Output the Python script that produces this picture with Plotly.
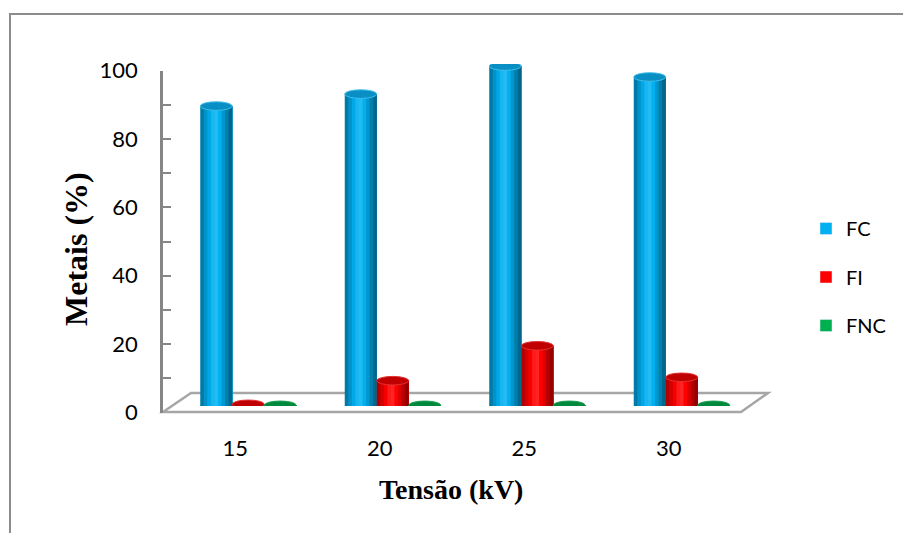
import plotly.graph_objects as go

# Metal fractions (%) by applied voltage
categories = ["15", "20", "25", "30"]
series_names = ["FC", "FI", "FNC"]
fc_values = [87.7, 91.2, 99.4, 96.2]
fi_values = [0.5, 7.4, 17.6, 8.4]
fnc_values = [0.2, 0.2, 0.2, 0.2]
y_tick_values = [0, 20, 40, 60, 80, 100]

series_values = [fc_values, fi_values, fnc_values]
base_colors = [(0, 176, 240), (255, 0, 0), (0, 176, 80)]
cap_fill = ["#0A8FC4", "#C00000", "#00883C"]
cap_rim = ["#3DBDEB", "#E23030", "#1AA050"]

W, H = 903, 533


def px_x(p):
    return p / W


def px_y(p):
    return 1 - p / H


def shade(rgb, k):
    if k <= 1:
        return "rgb(%d,%d,%d)" % tuple(int(c * k) for c in rgb)
    f = k - 1
    return "rgb(%d,%d,%d)" % tuple(int(c + (255 - c) * f) for c in rgb)


xpos = list(range(len(categories)))
bar_w = 0.2215
base_offsets = [-1.5 * bar_w, -0.5 * bar_w, 0.5 * bar_w]
strip_shades = [0.70, 0.84, 0.96, 1.10, 1.14, 1.0, 0.86, 0.72, 0.58]
n_strips = len(strip_shades)
cap_h = 1.25

fig = go.Figure()

# invisible trace so the front axes are drawn
fig.add_trace(go.Scatter(x=xpos, y=[None] * len(xpos), mode="lines",
                         showlegend=False, hoverinfo="skip",
                         xaxis="x", yaxis="y"))

shapes = []

# floor of the 3-D plot area
fl, bl, br, fr = (163, 412), (191, 393), (768, 393), (741, 412)
floor_path = "M {} {} L {} {} L {} {} L {} {} Z".format(
    px_x(fl[0]), px_y(fl[1]), px_x(bl[0]), px_y(bl[1]),
    px_x(br[0]), px_y(br[1]), px_x(fr[0]), px_y(fr[1]))
shapes.append(dict(type="path", path=floor_path, xref="paper", yref="paper",
                   line=dict(color="#A6A6A6", width=2.5),
                   fillcolor="white", layer="below"))

# outer chart border
shapes.append(dict(type="rect", xref="paper", yref="paper",
                   x0=px_x(10), x1=1.02, y0=-0.02, y1=px_y(14),
                   line=dict(color="#8C8C8C", width=2),
                   fillcolor="rgba(0,0,0,0)", layer="below"))

for s, (name, vals) in enumerate(zip(series_names, series_values)):
    rgb = base_colors[s]
    off0 = base_offsets[s]
    # cylinder body: overlapping strips give the rounded shading
    for i, k in enumerate(strip_shades):
        start = off0 + i * bar_w / n_strips
        fig.add_trace(go.Bar(
            x=xpos, y=vals, xaxis="x2", yaxis="y2",
            offset=start, width=bar_w - i * bar_w / n_strips,
            marker=dict(color=shade(rgb, k), line=dict(width=0)),
            showlegend=False, hoverinfo="skip"))
    # legend entry
    fig.add_trace(go.Bar(x=[None], y=[None], xaxis="x2", yaxis="y2",
                         name=name, marker_color=shade(rgb, 1.0),
                         legendgroup=name, showlegend=True))
    for xp, v in zip(xpos, vals):
        x0 = xp + off0
        x1 = x0 + bar_w
        # rounded bottom
        shapes.append(dict(type="circle", xref="x2", yref="y2",
                           x0=x0, x1=x1, y0=-cap_h, y1=cap_h,
                           fillcolor=shade(rgb, 0.85), line=dict(width=0),
                           layer="below"))
        # top cap
        shapes.append(dict(type="circle", xref="x2", yref="y2",
                           x0=x0, x1=x1, y0=v - cap_h, y1=v + cap_h,
                           fillcolor=cap_fill[s],
                           line=dict(color=cap_rim[s], width=1),
                           layer="above"))

axis_grey = "#868686"
tick_font = dict(family="Lato, Carlito, sans-serif", size=22, color="black")

fig.update_layout(
    width=W, height=H, autosize=False,
    margin=dict(l=0, r=0, t=0, b=0, pad=0, autoexpand=False),
    paper_bgcolor="white", plot_bgcolor="rgba(0,0,0,0)",
    barmode="overlay",
    xaxis=dict(domain=[px_x(163), px_x(741)], range=[-0.5, 3.5],
               tickvals=xpos, ticktext=categories, showline=False,
               showgrid=False, zeroline=False, ticks="",
               tickfont=tick_font, ticklabelstandoff=20,
               fixedrange=True, anchor="y", automargin=False),
    yaxis=dict(domain=[px_y(412.5), px_y(70.7)], range=[0, 100],
               tickvals=y_tick_values, showgrid=False, zeroline=False,
               showline=True, linecolor=axis_grey, linewidth=2.5,
               ticks="inside", ticklen=8, tickwidth=2, tickcolor=axis_grey,
               minor=dict(dtick=10, ticks="inside", ticklen=8, tickwidth=2,
                          tickcolor=axis_grey),
               tickfont=tick_font, ticklabelstandoff=18,
               fixedrange=True, anchor="x", automargin=False),
    xaxis2=dict(domain=[px_x(176), px_x(754)], range=[-0.5, 3.5],
                visible=False, fixedrange=True, anchor="y2"),
    yaxis2=dict(domain=[px_y(406), px_y(64)], range=[0, 100],
                visible=False, fixedrange=True, anchor="x2"),
    legend=dict(x=px_x(806), y=px_y(209), xanchor="left", yanchor="top",
                font=dict(family="Lato, Carlito, sans-serif", size=20,
                          color="black"),
                tracegroupgap=19.5, bgcolor="rgba(0,0,0,0)"),
    shapes=shapes,
    annotations=[
        dict(text="<b>Metais (%)</b>", x=px_x(76), y=px_y(249),
             xref="paper", yref="paper", showarrow=False, textangle=-90,
             xanchor="center", yanchor="middle",
             font=dict(family="Liberation Serif, Times New Roman, serif",
                       size=32, color="black")),
        dict(text="<b>Tensão (kV)</b>", x=px_x(451), y=px_y(490),
             xref="paper", yref="paper", showarrow=False,
             xanchor="center", yanchor="middle",
             font=dict(family="Liberation Serif, Times New Roman, serif",
                       size=28, color="black")),
    ],
)

fig.write_html("out.html")
